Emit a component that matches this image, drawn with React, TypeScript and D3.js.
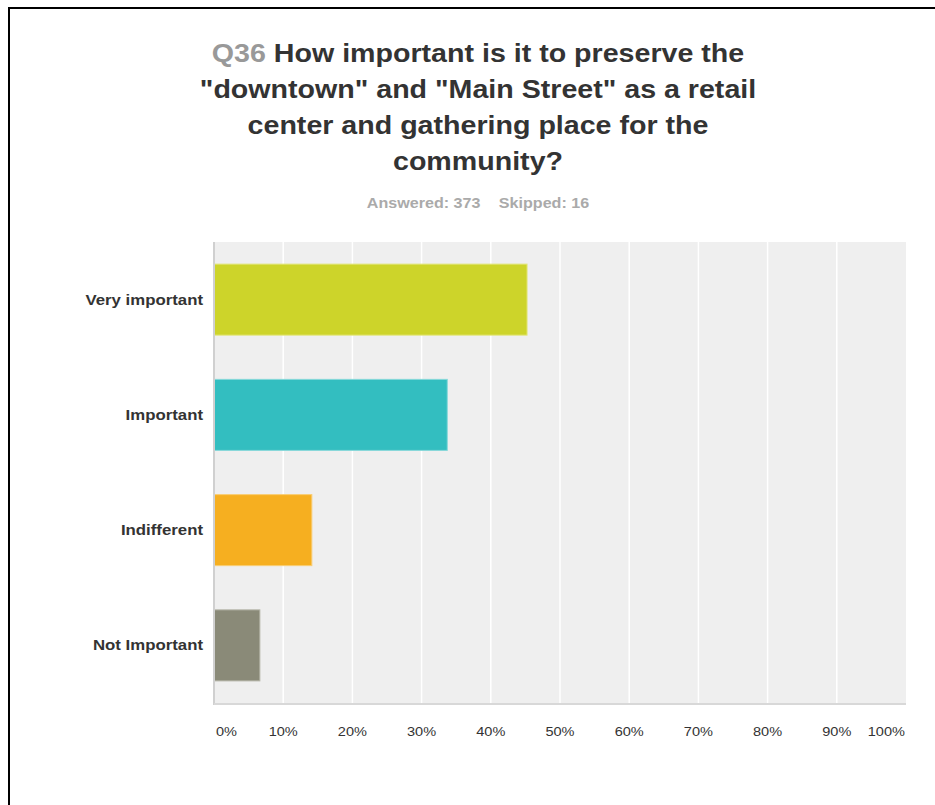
import React from "react";
import * as d3 from "d3";

const categories = ["Very important", "Important", "Indifferent", "Not Important"];
const values = [45.31, 33.78, 14.21, 6.7];
const colors = ["#cdd42a", "#33bec0", "#f6af20", "#8a8a78"];
const borders = ["#e2e67a", "#86d8d9", "#f9cd73", "#b5b5a8"];
const ticks = [0, 10, 20, 30, 40, 50, 60, 70, 80, 90, 100];
const titleLines = [
  "How important is it to preserve the",
  "\"downtown\" and \"Main Street\" as a retail",
  "center and gathering place for the",
  "community?",
];
const questionNo = "Q36";
const subtitle = ["Answered: 373", "Skipped: 16"];

export default function App() {
  const W = 935, H = 805;
  const left = 214, right = 906, top = 242, bottom = 703;
  const x = d3.scaleLinear().domain([0, 100]).range([left, right]);
  const y = d3.scaleBand().domain(categories).range([top, bottom]).paddingInner(0.375).paddingOuter(0.1875);
  const font = "'Liberation Sans', Arial, Helvetica, sans-serif";
  return (
    <svg width={W} height={H} style={{ position: "absolute", left: 0, top: 0 }} fontFamily={font}>
      <rect x={0} y={0} width={W} height={H} fill="#fff" />
      <line x1={9} y1={8} x2={W} y2={8} stroke="#000" strokeWidth={2} />
      <line x1={9} y1={7} x2={9} y2={H} stroke="#000" strokeWidth={2} />
      <g fontWeight="bold" fontSize={26} textAnchor="middle" fill="#333">
        {titleLines.map((t, i) => (
          <text key={i} transform={`translate(478,${62 + i * 36}) scale(1.1,1)`}>
            {i === 0 ? (
              <>
                <tspan fill="#999">{questionNo} </tspan>
                {t}
              </>
            ) : (
              t
            )}
          </text>
        ))}
      </g>
      <text
        transform="translate(478,208) scale(1.15,1)"
        textAnchor="middle"
        fontWeight="bold"
        fontSize={14}
        fill="#aaa"
      >
        {subtitle[0]}
        <tspan dx={16}>{subtitle[1]}</tspan>
      </text>
      <rect x={left} y={top} width={right - left} height={bottom - top} fill="#efefef" />
      {ticks.slice(1, -1).map((t) => (
        <line key={t} x1={x(t)} x2={x(t)} y1={top} y2={bottom} stroke="#fff" strokeWidth={1.5} />
      ))}
      {categories.map((c, i) => (
        <g key={c}>
          <rect
            x={x(0) + 0.5}
            y={y(c)! + 0.5}
            width={x(values[i]) - x(0) - 1}
            height={y.bandwidth() - 1}
            fill={colors[i]}
            stroke={borders[i]}
            strokeWidth={1}
          />
          <text
            transform={`translate(203,${y(c)! + y.bandwidth() / 2}) scale(1.2,1)`}
            dy="0.35em"
            textAnchor="end"
            fontWeight="bold"
            fontSize={14}
            fill="#333"
          >
            {c}
          </text>
        </g>
      ))}
      <line x1={left} x2={left} y1={top} y2={bottom + 2} stroke="#d0d0d0" strokeWidth={2} />
      <line x1={left} x2={right} y1={bottom + 1} y2={bottom + 1} stroke="#d8d8d8" strokeWidth={2} />
      {ticks.map((t, i) => (
        <text
          key={t}
          transform={`translate(${i === 0 ? x(t) + 2 : i === ticks.length - 1 ? x(t) - 1 : x(t)},736) scale(1.12,1)`}
          textAnchor={i === 0 ? "start" : i === ticks.length - 1 ? "end" : "middle"}
          fontSize={13}
          fill="#333"
        >
          {t}%
        </text>
      ))}
    </svg>
  );
}
